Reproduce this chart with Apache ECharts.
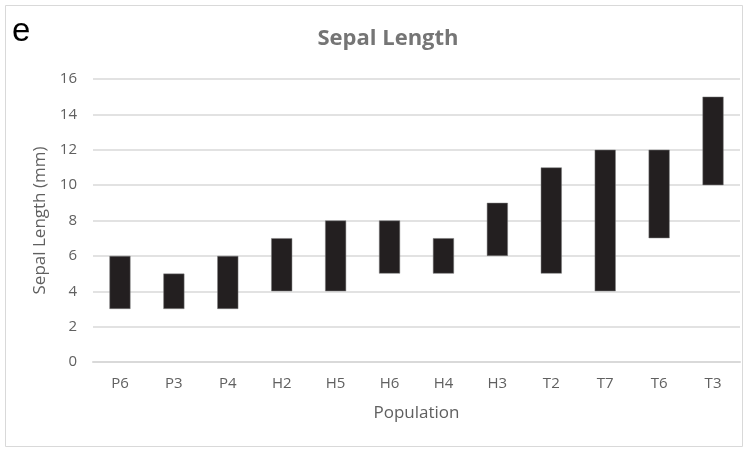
<!DOCTYPE html>
<html>
<head>
<meta charset="utf-8">
<script src="https://cdn.jsdelivr.net/npm/echarts@6/dist/echarts.min.js"></script>
<style>
  html, body { margin: 0; padding: 0; background: #fff; }
  #chart { width: 749px; height: 450px; }
</style>
</head>
<body>
<div id="chart"></div>
<script>
// populations, with min and max sepal length (mm)
const populations = ['P6', 'P3', 'P4', 'H2', 'H5', 'H6', 'H4', 'H3', 'T2', 'T7', 'T6', 'T3']
const lowValues = [3, 3, 3, 4, 4, 5, 5, 6, 5, 4, 7, 10]
const highValues = [6, 5, 6, 7, 8, 8, 7, 9, 11, 12, 12, 15]
const yTicks = [0, 16, 2] // min, max, step

const spans = highValues.map((h, i) => h - lowValues[i])

const chart = echarts.init(document.getElementById('chart'))
const greyText = '#606060'
const font = 'Open Sans'

chart.setOption({
  backgroundColor: '#fff',
  animation: false,
  title: {
    text: 'Sepal Length',
    left: 383,
    top: 23,
    textAlign: 'center',
    textStyle: { color: '#757575', fontSize: 22, fontWeight: 'bold', fontFamily: font }
  },
  graphic: [
    {
      type: 'rect',
      shape: { x: 5.5, y: 5.5, width: 737, height: 441 },
      style: { fill: 'none', stroke: '#d9d9d9', lineWidth: 1 },
      silent: true
    },
    {
      type: 'text',
      left: 12,
      top: 15,
      style: { text: 'e', fill: '#000', fontSize: 33, fontFamily: 'Liberation Sans' }
    }
  ],
  grid: { left: 93, right: 9, top: 79, bottom: 88 },
  xAxis: {
    type: 'category',
    data: populations,
    name: 'Population',
    nameLocation: 'middle',
    nameGap: 43,
    nameTextStyle: { color: greyText, fontSize: 17, fontFamily: font },
    axisLine: { show: true, lineStyle: { color: '#d9d9d9', width: 2 } },
    axisTick: { show: false },
    axisLabel: { color: greyText, fontSize: 15, fontFamily: font, margin: 14 }
  },
  yAxis: {
    type: 'value',
    min: yTicks[0],
    max: yTicks[1],
    interval: yTicks[2],
    name: 'Sepal Length (mm)',
    nameLocation: 'middle',
    nameGap: 44,
    nameTextStyle: { color: greyText, fontSize: 17, fontFamily: font },
    axisLine: { show: false },
    axisTick: { show: false },
    axisLabel: { color: greyText, fontSize: 15, fontFamily: font, margin: 16 },
    splitLine: { lineStyle: { color: '#d9d9d9', width: 1.5 } }
  },
  series: [
    {
      name: 'base',
      type: 'bar',
      stack: 'range',
      data: lowValues,
      barWidth: '39%',
      itemStyle: { color: 'transparent' },
      silent: true
    },
    {
      name: 'range',
      type: 'bar',
      stack: 'range',
      data: spans,
      barWidth: '39%',
      itemStyle: { color: '#231f20', borderColor: '#7f7f7f', borderWidth: 0.5 }
    }
  ]
})
</script>
</body>
</html>
